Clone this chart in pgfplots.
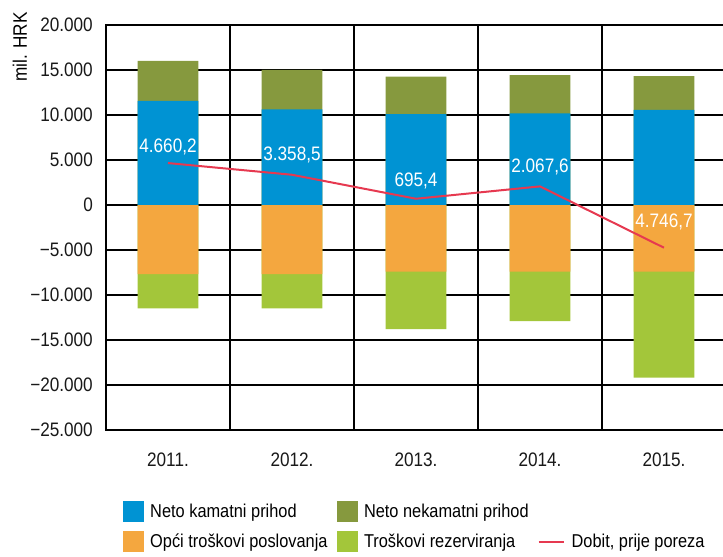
\documentclass[border=0pt]{standalone}
\usepackage{fontspec}
\setmainfont{Liberation Sans}[FakeStretch=0.88]
\usepackage{pgfplots}
\pgfplotsset{compat=1.18}
\usepackage{pgfplotstable}

\definecolor{kamatni}{HTML}{0093D3}
\definecolor{nekamatni}{HTML}{86993E}
\definecolor{opci}{HTML}{F4A73F}
\definecolor{rezerv}{HTML}{A3C63A}
\definecolor{dobit}{HTML}{E63950}

\newcommand\chartfont{\fontsize{19.5bp}{23bp}\selectfont}
\newcommand\legendfont{\fontsize{18.6bp}{22bp}\selectfont}

% mil. HRK
\pgfplotstableread{
x kam nekam opci rez
0 11560 4440 -7670 -3810
1 10630 4370 -7670 -3810
2 10100 4160 -7410 -6370
3 10190 4250 -7410 -5480
4 10560 3770 -7410 -11780
}\bilanca

\pgfplotstableread{
x dobit lbl dy
0 4660.2 4.660,2 16
1 3358.5 3.358,5 20
2 695.4 695,4 18
3 2067.6 2.067,6 19
4 -4746.7 4.746,7 26
}\dobitak

\begin{document}
\begin{tikzpicture}
\useasboundingbox (-106bp,-127bp) rectangle (617bp,430bp);
\begin{axis}[
  at={(0,0)}, anchor=south west,
  scale only axis, width=620bp, height=405bp,
  xmin=-0.5, xmax=4.5, ymin=-25000, ymax=20000,
  scaled y ticks=false,
  xtick={0,...,4}, xticklabels={2011.,2012.,2013.,2014.,2015.},
  minor xtick={-0.5,0.5,1.5,2.5,3.5,4.5},
  ytick={-25000,-20000,...,20000},
  yticklabels={−25.000,−20.000,−15.000,−10.000,−5.000,0,5.000,10.000,15.000,20.000},
  major tick length=0pt, minor tick length=0pt,
  xminorgrids=true, ymajorgrids=true,
  grid style={black, line width=2bp},
  major grid style={black, line width=2bp},
  minor grid style={black, line width=2bp},
  axis line style={black, line width=2bp},
  tick label style={font=\chartfont, text=black!90},
  xticklabel style={anchor=center, yshift=-30bp},
  yticklabel style={anchor=east, inner sep=0pt, xshift=-13bp},
  ylabel={mil. HRK},
  ylabel style={at={(axis description cs:-0.139,0.946)}, anchor=center, font=\chartfont},
  legend columns=3,
  legend cell align=left,
  legend style={draw=none, fill=none, font=\legendfont,
    at={(axis description cs:0.022,-0.17)}, anchor=north west,
    /tikz/every odd column/.append style={column sep=5bp},
    /tikz/every even column/.append style={column sep=7bp},
    row sep=10bp},
]
\addlegendimage{legend image code/.code={\fill[kamatni] (0bp,-10bp) rectangle (20bp,10bp);}}
\addlegendentry{Neto kamatni prihod}
\addlegendimage{legend image code/.code={\fill[nekamatni] (0bp,-10bp) rectangle (20bp,10bp);}}
\addlegendentry{Neto nekamatni prihod}
\addlegendimage{empty legend}
\addlegendentry{}
\addlegendimage{legend image code/.code={\fill[opci] (0bp,-10bp) rectangle (20bp,10bp);}}
\addlegendentry{Opći troškovi poslovanja}
\addlegendimage{legend image code/.code={\fill[rezerv] (0bp,-10bp) rectangle (20bp,10bp);}}
\addlegendentry{Troškovi rezerviranja}
\addlegendimage{legend image code/.code={\draw[dobit, line width=2bp] (0bp,0bp) -- (25bp,0bp);}}
\addlegendentry{Dobit, prije poreza}

% positive side: non-interest income on top of interest income
\addplot[ybar, bar width=0.49, bar shift=0pt, fill=nekamatni, draw=none, forget plot]
  table[x=x, y expr=\thisrow{kam}+\thisrow{nekam}] {\bilanca};
\addplot[ybar, bar width=0.49, bar shift=0pt, fill=kamatni, draw=none, forget plot]
  table[x=x, y=kam] {\bilanca};
% negative side: provisions below operating costs
\addplot[ybar, bar width=0.49, bar shift=0pt, fill=rezerv, draw=none, forget plot]
  table[x=x, y expr=\thisrow{opci}+\thisrow{rez}] {\bilanca};
\addplot[ybar, bar width=0.49, bar shift=0pt, fill=opci, draw=none, forget plot]
  table[x=x, y=opci] {\bilanca};

\addplot[dobit, line width=2bp, mark=none, forget plot,
  nodes near coords, point meta=explicit symbolic,
  visualization depends on={\thisrow{dy} \as \dy},
  every node near coord/.append style={text=white, font=\chartfont,
    anchor=center, yshift=\dy bp}]
  table[x=x, y=dobit, meta=lbl] {\dobitak};
\end{axis}
\end{tikzpicture}
\end{document}
